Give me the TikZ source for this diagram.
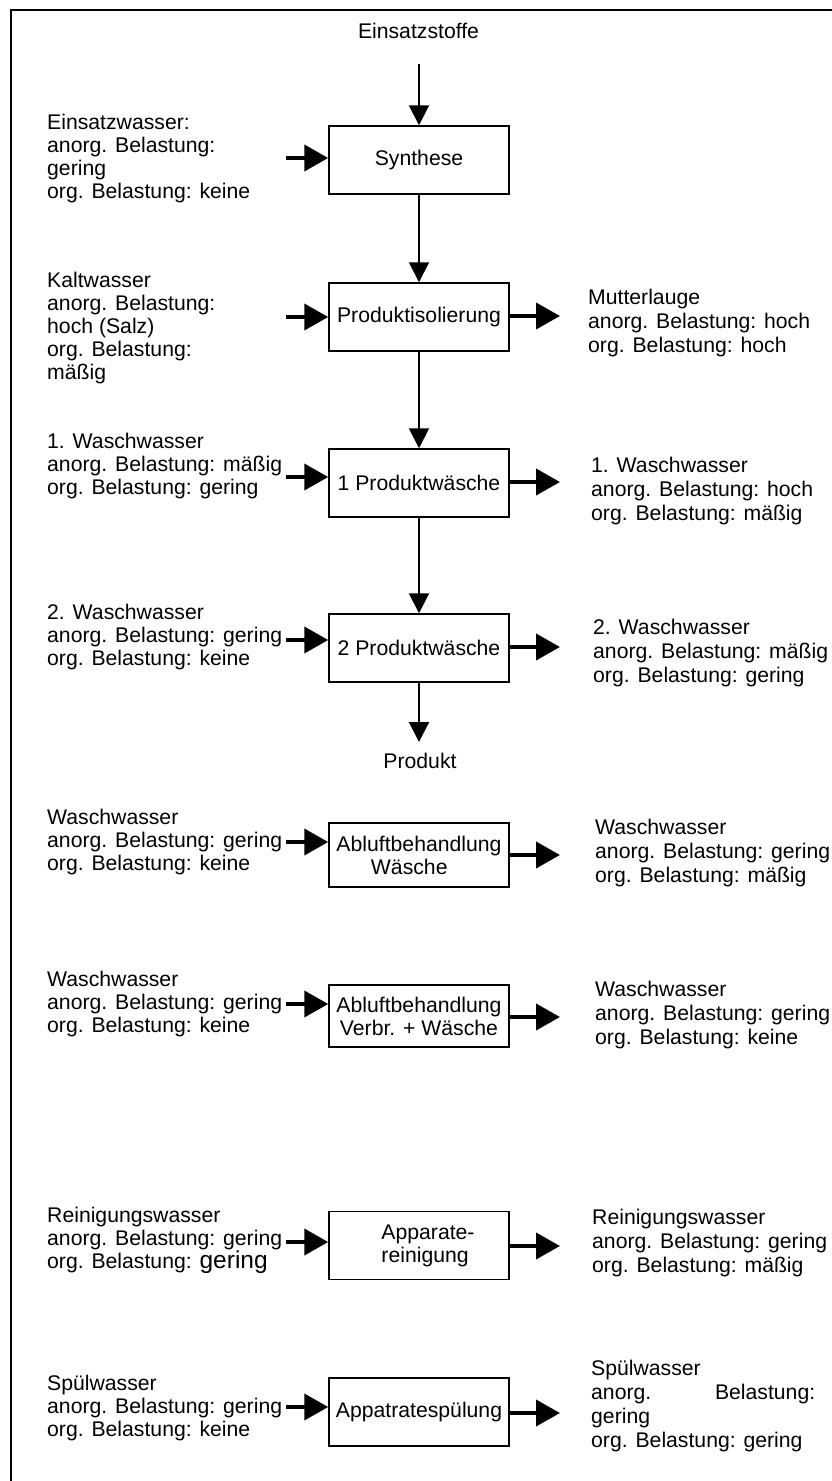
\documentclass[tikz,border=0pt]{standalone}
\usepackage{fontspec}
\setmainfont{Liberation Sans}
\usetikzlibrary{arrows.meta}

\begin{document}
\begin{tikzpicture}[x=1pt,y=-1pt,
  every node/.style={font=\fontsize{21.2}{23}\selectfont,inner sep=0pt},
  stepbox/.style={draw,line width=1.5pt,minimum width=180pt,minimum height=68pt,align=center},
  water/.style={anchor=base west,align=left},
  waste/.style={anchor=base west,align=left,font=\fontsize{21.2}{24}\selectfont},
  flow/.style={-{Triangle[length=20pt,width=20pt]},line width=2pt},
  feed/.style={-{Triangle[length=24pt,width=26pt]},line width=4pt}]
\useasboundingbox (0,0) rectangle (831,1481);
\draw[line width=2.2pt] (11,1490) -- (11,10) -- (840,10);

% Prozesskette
\node[anchor=base] (ein) at (418.5,38) {Einsatzstoffe};
\node[stepbox] (syn) at (419,160) {Synthese};
\node[stepbox] (iso) at (419,317) {Produktisolierung};
\node[stepbox] (pw1) at (419,483) {1 Produktwäsche};
\node[stepbox] (pw2) at (419,648) {2 Produktwäsche};
\node[anchor=base] (prod) at (420,768) {Produkt};
\coordinate (einA) at (419,64);
\coordinate (prodA) at (419,742);
\draw[flow] (einA) -- (syn.north);
\draw[flow] (syn) -- (iso);
\draw[flow] (iso) -- (pw1);
\draw[flow] (pw1) -- (pw2);
\draw[flow] (pw2) -- (prodA);

% Nebenanlagen
\node[stepbox,minimum height=64pt,align=left] (abl1) at (419,855) {Abluftbehandlung\\\hspace*{34.5pt}Wäsche};
\node[stepbox,minimum height=62pt] (abl2) at (419,1016) {Abluftbehandlung\\Verbr. + Wäsche};
\node[stepbox,align=left] (app) at (419,1245.5) {\hspace*{18pt}Apparate-\\\hspace*{18pt}reinigung};
\node[stepbox] (spuel) at (419,1412) {Appatratespülung};

% Zulaeufe (base = letzte Zeile)
\node[water] (wA) at (47,198) {Einsatzwasser:\\anorg. Belastung:\\gering\\org. Belastung: keine};
\begin{scope}
\clip (0,0) rectangle (300,386);
\node[water] (wB) at (47,379) {Kaltwasser\\anorg. Belastung:\\hoch (Salz)\\org. Belastung:\\mäßig};
\end{scope}
\node[water] (wC) at (47,494) {1. Waschwasser\\anorg. Belastung: mäßig\\org. Belastung: gering};
\node[water] (wD) at (47,665) {2. Waschwasser\\anorg. Belastung: gering\\org. Belastung: keine};
\node[water] (wE) at (47,870) {Waschwasser\\anorg. Belastung: gering\\org. Belastung: keine};
\node[water] (wF) at (47,1032) {Waschwasser\\anorg. Belastung: gering\\org. Belastung: keine};
\node[water] (wG) at (47,1268) {Reinigungswasser\\anorg. Belastung: gering\\org. Belastung: {\fontsize{24.5}{23}\selectfont gering}};
\node[water] (wH) at (47,1436) {Spülwasser\\anorg. Belastung: gering\\org. Belastung: keine};
\coordinate (inA) at (286,158);
\coordinate (inB) at (286,317);
\coordinate (inC) at (286,477);
\coordinate (inD) at (286,640);
\coordinate (inE) at (286,842);
\coordinate (inF) at (286,1004);
\coordinate (inG) at (286,1242);
\coordinate (inH) at (286,1407);
\draw[feed] (inA) -- (inA -| syn.west);
\draw[feed] (inB) -- (inB -| iso.west);
\draw[feed] (inC) -- (inC -| pw1.west);
\draw[feed] (inD) -- (inD -| pw2.west);
\draw[feed] (inE) -- (inE -| abl1.west);
\draw[feed] (inF) -- (inF -| abl2.west);
\draw[feed] (inG) -- (inG -| app.west);
\draw[feed] (inH) -- (inH -| spuel.west);

% Ablaeufe
\node[waste] (mB) at (588,352) {Mutterlauge\\anorg. Belastung: hoch\\org. Belastung: hoch};
\node[waste] (mC) at (591,520) {1. Waschwasser\\anorg. Belastung: hoch\\org. Belastung: mäßig};
\node[waste] (mD) at (593,682) {2. Waschwasser\\anorg. Belastung: mäßig\\org. Belastung: gering};
\node[waste] (mE) at (595,882) {Waschwasser\\anorg. Belastung: gering\\org. Belastung: mäßig};
\node[waste] (mF) at (595,1044) {Waschwasser\\anorg. Belastung: gering\\org. Belastung: keine};
\node[waste] (mG) at (592,1272) {Reinigungswasser\\anorg. Belastung: gering\\org. Belastung: mäßig};
\node[waste] (mH) at (591,1447) {Spülwasser\\\makebox[224pt][s]{anorg. Belastung:}\\gering\\org. Belastung: gering};
\coordinate (outB) at (560,316);
\coordinate (outC) at (560,482);
\coordinate (outD) at (560,647);
\coordinate (outE) at (560,855);
\coordinate (outF) at (560,1017);
\coordinate (outG) at (560,1246);
\coordinate (outH) at (560,1413);
\draw[feed] (outB -| iso.east) -- (outB);
\draw[feed] (outC -| pw1.east) -- (outC);
\draw[feed] (outD -| pw2.east) -- (outD);
\draw[feed] (outE -| abl1.east) -- (outE);
\draw[feed] (outF -| abl2.east) -- (outF);
\draw[feed] (outG -| app.east) -- (outG);
\draw[feed] (outH -| spuel.east) -- (outH);
\end{tikzpicture}
\end{document}
